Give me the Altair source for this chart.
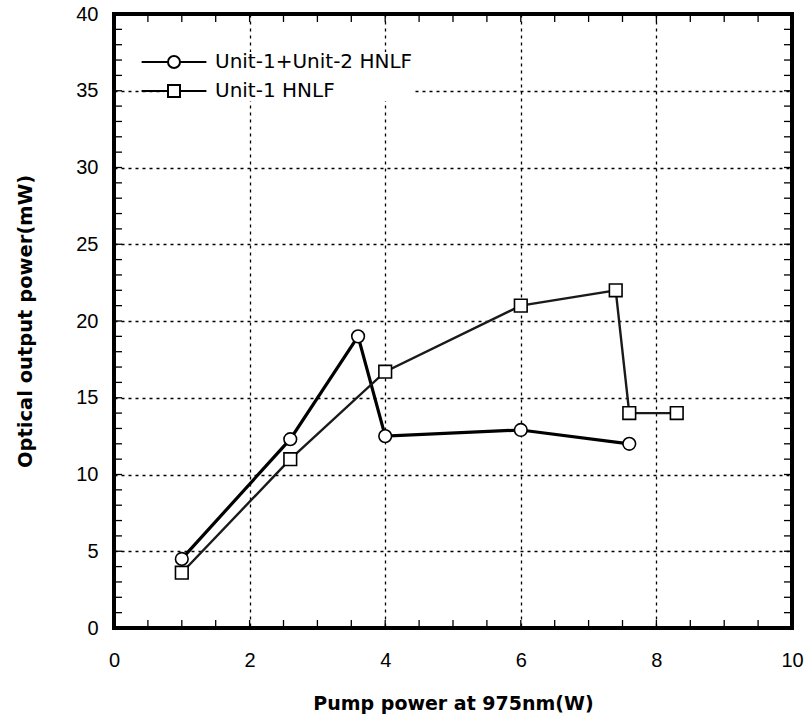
import altair as alt
import pandas as pd

# Measured optical output power vs. pump power for the two HNLF configurations
SERIES = ["Unit-1+Unit-2 HNLF", "Unit-1 HNLF"]

pump_12 = [1.0, 2.6, 3.6, 4.0, 6.0, 7.6]
power_12 = [4.5, 12.3, 19.0, 12.5, 12.9, 12.0]

pump_1 = [1.0, 2.6, 4.0, 6.0, 7.4, 7.6, 8.3]
power_1 = [3.6, 11.0, 16.7, 21.0, 22.0, 14.0, 14.0]

# Axis tick values
x_major = [0, 2, 4, 6, 8, 10]
y_major = [0, 5, 10, 15, 20, 25, 30, 35, 40]
x_minor = [i / 2 for i in range(21)]
y_minor = list(range(41))

W, H = 678, 614
TICK = 8

df = pd.concat(
    [
        pd.DataFrame({"series": SERIES[0], "pump": pump_12, "power": power_12,
                      "order": range(len(pump_12))}),
        pd.DataFrame({"series": SERIES[1], "pump": pump_1, "power": power_1,
                      "order": range(len(pump_1))}),
    ],
    ignore_index=True,
)
xt = pd.DataFrame({"t": x_minor})
yt = pd.DataFrame({"t": y_minor})

x_scale = alt.Scale(domain=[0, 10], nice=False)
y_scale = alt.Scale(domain=[0, 40], nice=False)

x_axis = alt.Axis(
    values=x_major, title="Pump power at 975nm(W)", grid=True, gridDash=[3, 4],
    gridColor="black", gridWidth=1.3, gridOpacity=1, ticks=False, domain=False,
    labelFont="Liberation Sans", labelFontSize=20, labelColor="black", labelPadding=22,
    labelFlush=False,
    titleFont="DejaVu Sans", titleFontSize=19, titleFontWeight="bold", titleColor="black",
    titlePadding=24,
)
y_axis = alt.Axis(
    values=y_major, title="Optical output power(mW)", grid=True, gridDash=[3, 4],
    gridColor="black", gridWidth=1.3, gridOpacity=1, ticks=False, domain=False,
    labelFont="Liberation Sans", labelFontSize=20, labelColor="black", labelPadding=16,
    labelFlush=False,
    titleFont="DejaVu Sans", titleFontSize=19.5, titleFontWeight="bold", titleColor="black",
    titlePadding=40,
)

X = alt.X("pump:Q", scale=x_scale, axis=x_axis)
Y = alt.Y("power:Q", scale=y_scale, axis=y_axis)

line_12 = (
    alt.Chart(df).transform_filter(alt.datum.series == SERIES[0])
    .mark_line(color="black", strokeWidth=3.2)
    .encode(x=X, y=Y, order="order:Q")
)
line_1 = (
    alt.Chart(df).transform_filter(alt.datum.series == SERIES[1])
    .mark_line(color="#1a1a1a", strokeWidth=2.4)
    .encode(x=X, y=Y, order="order:Q")
)
points = (
    alt.Chart(df)
    .mark_point(filled=False, fill="white", fillOpacity=1, stroke="black",
                strokeWidth=1.6, size=160, opacity=1)
    .encode(
        x=X, y=Y,
        shape=alt.Shape("series:N", scale=alt.Scale(domain=SERIES, range=["circle", "square"]),
                        legend=None),
    )
)

# Legend glyphs: a short line segment through the marker
circle_key = "M-5.4,0H-1M1,0H5.4M1,0A1,1,0,1,1,-1,0A1,1,0,1,1,1,0Z"
square_key = "M-5.4,0H-1M1,0H5.4M-1,-1H1V1H-1Z"
legend_layer = (
    alt.Chart(df)
    .mark_point(stroke="black", strokeWidth=2, size=144, opacity=0)
    .encode(
        x=X, y=Y,
        shape=alt.Shape(
            "series:N",
            scale=alt.Scale(domain=SERIES, range=[circle_key, square_key]),
            legend=alt.Legend(
                title=None, orient="none", legendX=50, legendY=38,
                labelFont="DejaVu Sans", labelFontSize=20, labelColor="black",
                labelLimit=0,
                symbolSize=144, symbolStrokeWidth=2, symbolStrokeColor="black",
                symbolFillColor="white", symbolOpacity=1, labelOffset=31,
                rowPadding=9, padding=0, fillColor="white",
            ),
        ),
    )
)

tx = alt.X("t:Q", scale=x_scale, axis=x_axis)
ty = alt.Y("t:Q", scale=y_scale, axis=y_axis)
tick_bottom = alt.Chart(xt).mark_rule(color="black", strokeWidth=1.3).encode(
    x=tx, y=alt.value(H), y2=alt.value(H - TICK))
tick_top = alt.Chart(xt).mark_rule(color="black", strokeWidth=1.3).encode(
    x=tx, y=alt.value(0), y2=alt.value(TICK))
tick_left = alt.Chart(yt).mark_rule(color="black", strokeWidth=1.3).encode(
    y=ty, x=alt.value(0), x2=alt.value(TICK))
tick_right = alt.Chart(yt).mark_rule(color="black", strokeWidth=1.3).encode(
    y=ty, x=alt.value(W), x2=alt.value(W - TICK))

chart = (
    alt.layer(line_12, line_1, points, tick_bottom, tick_top, tick_left, tick_right,
              legend_layer)
    .resolve_scale(shape="independent")
    .properties(
        width=W, height=H,
        autosize=alt.AutoSizeParams(type="none"),
        padding={"left": 114, "top": 14, "right": 15, "bottom": 94},
        background="white",
    )
    .configure_view(stroke="black", strokeWidth=4)
)

chart.save("out.html", embed_options={"renderer": "svg", "actions": False})
